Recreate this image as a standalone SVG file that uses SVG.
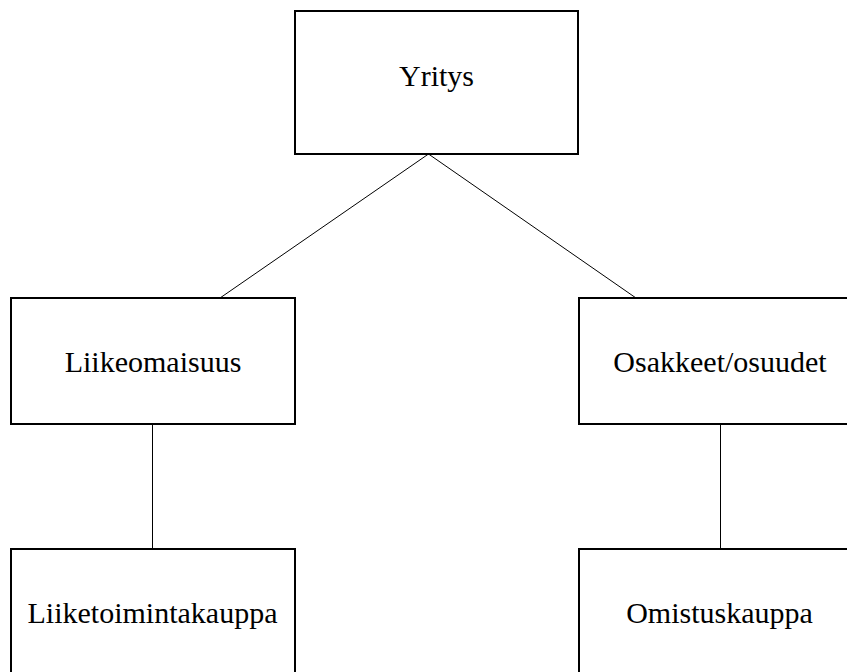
<svg xmlns="http://www.w3.org/2000/svg" width="847" height="672" viewBox="0 0 847 672">
<style>
.box{fill:#fff;stroke:#000;stroke-width:2}
.lbl{font-family:"Liberation Serif","Times New Roman",serif;font-size:30px;fill:#000;text-anchor:middle}
.con{stroke:#000;stroke-width:1;fill:none}
</style>
<rect width="847" height="672" fill="#fff"/>
<g id="connectors">
<line class="con" x1="428.5" y1="154" x2="220" y2="298"/>
<line class="con" x1="428.5" y1="154" x2="636" y2="298"/>
<line class="con" x1="152.5" y1="424" x2="152.5" y2="549"/>
<line class="con" x1="720.5" y1="424" x2="720.5" y2="549"/>
</g>
<g id="yritys">
<rect class="box" x="295" y="11" width="283" height="143"/>
<text class="lbl" x="436.5" y="86">Yritys</text>
</g>
<g id="liikeomaisuus">
<rect class="box" x="11" y="298" width="284" height="126"/>
<text class="lbl" x="153" y="371.5">Liikeomaisuus</text>
</g>
<g id="osakkeet">
<rect class="box" x="579" y="298" width="290" height="126"/>
<text class="lbl" x="720" y="371.5">Osakkeet/osuudet</text>
</g>
<g id="liiketoimintakauppa">
<rect class="box" x="11" y="549" width="284" height="140"/>
<text class="lbl" x="152.5" y="623">Liiketoimintakauppa</text>
</g>
<g id="omistuskauppa">
<rect class="box" x="579" y="549" width="290" height="140"/>
<text class="lbl" x="719.5" y="623">Omistuskauppa</text>
</g>
</svg>
